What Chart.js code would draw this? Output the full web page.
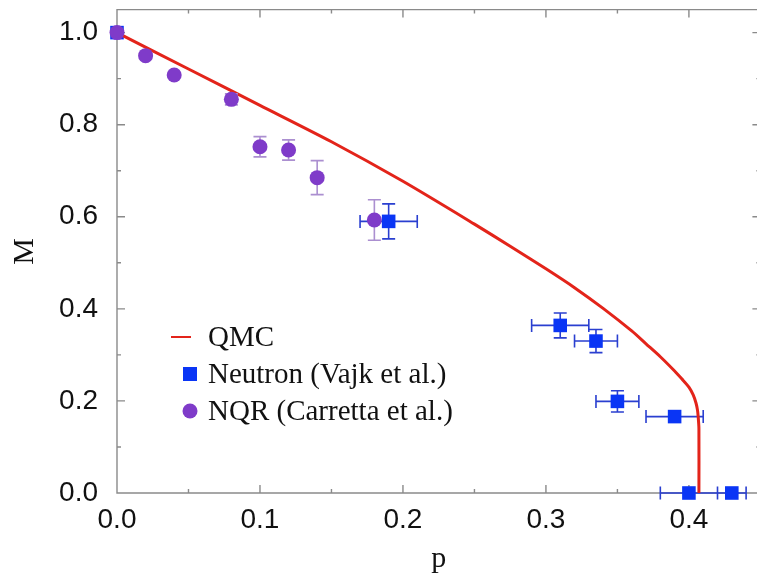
<!DOCTYPE html>
<html>
<head>
<meta charset="utf-8">
<script src="https://cdn.jsdelivr.net/npm/chart.js@4"></script>
<style>
    html, body { margin: 0; padding: 0; background: #fff; overflow: hidden; }
    #wrap { width: 757px; height: 577px; overflow: hidden; }
</style>
</head>
<body>
<div id="wrap"><canvas id="chart" width="770" height="577"></canvas></div>
<script>
// QMC curve
const qmcP = [0, 0.05, 0.10, 0.15, 0.20, 0.25, 0.275, 0.30, 0.32, 0.34, 0.36, 0.37, 0.38, 0.39, 0.395, 0.40, 0.403, 0.405, 0.406, 0.4065, 0.407, 0.407];
const qmcM = [1.0, 0.921, 0.842, 0.763, 0.677, 0.584, 0.536, 0.487, 0.446, 0.401, 0.352, 0.324, 0.296, 0.265, 0.248, 0.230, 0.213, 0.195, 0.180, 0.165, 0.140, 0.0];

// Neutron (Vajk et al.)
const neutronP    = [0, 0.19, 0.31, 0.335, 0.35, 0.39, 0.40, 0.43];
const neutronM    = [1.0, 0.59, 0.364, 0.33, 0.199, 0.166, 0, 0];
const neutronPErr = [0, 0.02, 0.02, 0.015, 0.015, 0.02, 0.02, 0.01];
const neutronMErr = [0, 0.038, 0.027, 0.025, 0.023, 0, 0, 0];

// NQR (Carretta et al.)
const nqrP    = [0, 0.02, 0.04, 0.08, 0.10, 0.12, 0.14, 0.18];
const nqrM    = [1.0, 0.95, 0.908, 0.855, 0.752, 0.745, 0.685, 0.593];
const nqrMErr = [0, 0, 0, 0.012, 0.022, 0.022, 0.037, 0.044];

const xTicks = [0, 0.1, 0.2, 0.3, 0.4];
const xMinor = [0.05, 0.15, 0.25, 0.35];
const yTicks = [0, 0.2, 0.4, 0.6, 0.8, 1.0];
const yMinor = [0.1, 0.3, 0.5, 0.7, 0.9];

const axisColor = '#8a8a8a';
const red = '#e3241a';
const blue = '#0a35f5';
const blueErr = '#2a3fd0';
const purple = '#7f3bc9';
const purpleErr = '#ab8fd0';

const toXY = (xs, ys) => xs.map((v, i) => ({ x: v, y: ys[i] }));

// error bars, drawn under each dataset's markers
const errorBars = {
    id: 'errorBars',
    beforeDatasetDraw(chart, args) {
        const ds = chart.data.datasets[args.index];
        if (!ds.xErr && !ds.yErr) return;
        const { ctx, scales: { x, y } } = chart;
        const cap = 6.5;
        ctx.save();
        ctx.strokeStyle = ds.errColor;
        ctx.lineWidth = 1.6;
        ctx.beginPath();
        ds.data.forEach((d, i) => {
            const px = x.getPixelForValue(d.x);
            const py = y.getPixelForValue(d.y);
            const ex = ds.xErr ? ds.xErr[i] : 0;
            const ey = ds.yErr ? ds.yErr[i] : 0;
            if (ex > 0) {
                const x0 = x.getPixelForValue(d.x - ex);
                const x1 = x.getPixelForValue(d.x + ex);
                ctx.moveTo(x0, py); ctx.lineTo(x1, py);
                ctx.moveTo(x0, py - cap); ctx.lineTo(x0, py + cap);
                ctx.moveTo(x1, py - cap); ctx.lineTo(x1, py + cap);
            }
            if (ey > 0) {
                const y0 = y.getPixelForValue(d.y - ey);
                const y1 = y.getPixelForValue(d.y + ey);
                ctx.moveTo(px, y0); ctx.lineTo(px, y1);
                ctx.moveTo(px - cap, y0); ctx.lineTo(px + cap, y0);
                ctx.moveTo(px - cap, y1); ctx.lineTo(px + cap, y1);
            }
        });
        ctx.stroke();
        ctx.restore();
    }
};

// frame (left, bottom, top) with inside ticks on all four sides
const frameTicks = {
    id: 'frameTicks',
    beforeDatasetsDraw(chart) {
        const { ctx, chartArea: a, scales: { x, y } } = chart;
        ctx.save();
        ctx.strokeStyle = axisColor;
        ctx.lineWidth = 1.4;
        ctx.beginPath();
        ctx.moveTo(a.right + 10, a.top); ctx.lineTo(a.left, a.top);
        ctx.lineTo(a.left, a.bottom); ctx.lineTo(a.right + 10, a.bottom);
        const xt = (v, len) => {
            const px = x.getPixelForValue(v);
            ctx.moveTo(px, a.bottom); ctx.lineTo(px, a.bottom - len);
            ctx.moveTo(px, a.top); ctx.lineTo(px, a.top + len);
        };
        const yt = (v, len) => {
            const py = y.getPixelForValue(v);
            ctx.moveTo(a.left, py); ctx.lineTo(a.left + len, py);
            ctx.moveTo(a.right, py); ctx.lineTo(a.right - len, py);
        };
        xTicks.forEach(v => xt(v, 8));
        xMinor.forEach(v => xt(v, 4));
        yTicks.forEach(v => yt(v, 8));
        yMinor.forEach(v => yt(v, 4));
        ctx.stroke();
        ctx.restore();
    }
};

// legend inside the plot
const insideLegend = {
    id: 'insideLegend',
    afterDraw(chart) {
        const { ctx } = chart;
        const rows = [
            { text: 'QMC', y: 337, kind: 'line' },
            { text: 'Neutron (Vajk et al.)', y: 374, kind: 'rect' },
            { text: 'NQR (Carretta et al.)', y: 411, kind: 'circle' }
        ];
        ctx.save();
        ctx.font = '29px "Liberation Serif", "Times New Roman", serif';
        ctx.textBaseline = 'middle';
        rows.forEach(r => {
            if (r.kind === 'line') {
                ctx.strokeStyle = red; ctx.lineWidth = 2;
                ctx.beginPath(); ctx.moveTo(171, r.y); ctx.lineTo(191, r.y); ctx.stroke();
            } else if (r.kind === 'rect') {
                ctx.fillStyle = blue; ctx.fillRect(183, r.y - 7, 14, 14);
            } else {
                ctx.fillStyle = purple;
                ctx.beginPath(); ctx.arc(190, r.y, 7.5, 0, Math.PI * 2); ctx.fill();
            }
            ctx.fillStyle = '#111';
            ctx.fillText(r.text, 208, r.y + 1);
        });
        ctx.restore();
    }
};

const tickFont = { family: '"Liberation Sans", Arial, sans-serif', size: 28 };
const titleFont = { family: '"Liberation Serif", "Times New Roman", serif', size: 30 };

new Chart(document.getElementById('chart'), {
    type: 'scatter',
    data: {
        datasets: [
            {
                label: 'QMC',
                type: 'line',
                data: toXY(qmcP, qmcM),
                borderColor: red,
                borderWidth: 3,
                pointRadius: 0,
                tension: 0.25,
                fill: false,
                clip: false,
                order: 1
            },
            {
                label: 'Neutron (Vajk et al.)',
                data: toXY(neutronP, neutronM),
                xErr: neutronPErr,
                yErr: neutronMErr,
                errColor: blueErr,
                pointStyle: 'rect',
                pointRadius: 9.6,
                backgroundColor: blue,
                borderWidth: 0,
                clip: false,
                order: 2
            },
            {
                label: 'NQR (Carretta et al.)',
                data: toXY(nqrP, nqrM),
                yErr: nqrMErr,
                errColor: purpleErr,
                pointStyle: 'circle',
                pointRadius: 7.5,
                backgroundColor: purple,
                borderWidth: 0,
                clip: false,
                order: 0
            }
        ]
    },
    options: {
        responsive: false,
        animation: false,
        layout: { padding: { top: 8, right: 8, left: 0, bottom: 0 } },
        plugins: {
            legend: { display: false },
            tooltip: { enabled: false }
        },
        scales: {
            x: {
                type: 'linear',
                min: 0,
                max: 0.45,
                afterFit: s => { s.height = 84; s.paddingLeft = 0; s.paddingRight = 0; },
                afterBuildTicks: s => { s.ticks = xTicks.map(v => ({ value: v })); },
                grid: { display: false, drawTicks: false },
                border: { display: false },
                ticks: {
                    color: '#111',
                    font: tickFont,
                    padding: 10,
                    maxRotation: 0,
                    callback: v => v.toFixed(1)
                },
                title: { display: true, text: 'p', color: '#111', font: titleFont, padding: 0 }
            },
            y: {
                type: 'linear',
                min: 0,
                max: 1.05,
                afterFit: s => { s.width = 117; s.paddingTop = 0; s.paddingBottom = 0; },
                afterBuildTicks: s => { s.ticks = yTicks.map(v => ({ value: v })); },
                grid: { display: false, drawTicks: false },
                border: { display: false },
                ticks: {
                    color: '#111',
                    font: tickFont,
                    padding: 19,
                    callback: v => v.toFixed(1)
                },
                title: { display: true, text: 'M', color: '#111', font: titleFont, padding: { top: 7 } }
            }
        }
    },
    plugins: [errorBars, frameTicks, insideLegend]
});
</script>
</body>
</html>
